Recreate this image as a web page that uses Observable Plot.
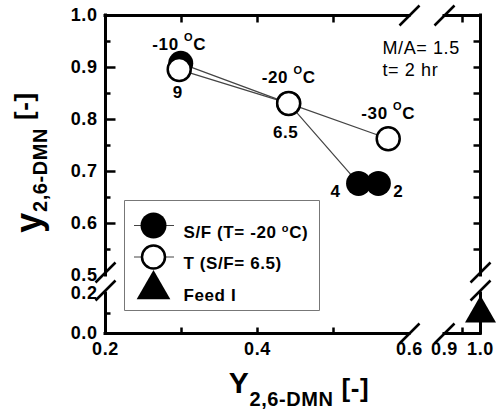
<!DOCTYPE html>
<html><head><meta charset="utf-8">
<script src="https://cdn.jsdelivr.net/npm/d3@7"></script>
<script src="https://cdn.jsdelivr.net/npm/@observablehq/plot@0.6"></script>
<style>
body{margin:0;background:#fff}
svg{display:block}
svg text{letter-spacing:0.6px}
</style>
</head><body><div id="chart"></div>
<script>
// ---- data ----
const sfRatio = ["9", "6.5", "4", "2"];
const sfX = [0.299, 0.441, 0.533, 0.559];
const sfY = [0.908, 0.831, 0.677, 0.677];
const tempC = ["-10", "-20", "-30"];
const tempX = [0.297, 0.441, 0.572];
const tempY = [0.896, 0.831, 0.763];
const feedX = [1.0];
const feedY = [0.10];
const xTickLabels = [0.2, 0.4, 0.6, 0.9, 1.0];
const xMinorTicks = [0.3, 0.4, 0.5, 0.95];
const yTickLabels = [0.0, 0.2, 0.5, 0.6, 0.7, 0.8, 0.9, 1.0];
const yMajorTicks = [0.6, 0.7, 0.8, 0.9];
const yMinorTicks = [0.1, 0.55, 0.65, 0.75, 0.85, 0.95];
const xSegments = [[0.2, 0.6], [0.9, 1.0]];
const ySegments = [[0.0, 0.2], [0.5, 1.0]];
const xBreaks = [0.6, 0.9];
const yBreaks = [0.2, 0.5];
const legendLabels = ["S/F (T= -20 {11|-6|o}C)", "T (S/F= 6.5)", "Feed I"];
const conditionNote = "M/A= 1.5\nt= 2 hr";
const xTitle = "Y{20|13|2,6-DMN}{26|4| [-]}";
const yTitle = "y{20|6|2,6-DMN}{26|-8| [-]}";

const sf = sfRatio.map((r, i) => ({r, x: sfX[i], y: sfY[i]}));
const tp = tempC.map((t, i) => ({t, x: tempX[i], y: tempY[i]}));
const feed = feedX.map((x, i) => ({x, y: feedY[i]}));

// custom symbols
const seg = (x1, y1, x2, y2) => ({draw(ctx) { ctx.moveTo(x1, y1); ctx.lineTo(x2, y2); }});
const boxSym = {draw(ctx) { ctx.rect(-97.5, -55, 195, 110); }};
const slash = seg(-10, 10, 10, -10);

const font = "Liberation Sans, Arial, Helvetica, sans-serif";
const B = {fontFamily: font, fontWeight: "bold", fill: "black"};

const legendRows = legendLabels.map((_, i) => 210 + i * 31.5);

const marks = [];
// axis frame lines
for (const [a, b] of xSegments) {
  marks.push(Plot.ruleY([1.0, 0.0], {x1: a, x2: b, stroke: "black", strokeWidth: 3, strokeLinecap: "square"}));
}
for (const [a, b] of ySegments) {
  marks.push(Plot.ruleX([0.2, 1.0], {y1: a, y2: b, stroke: "black", strokeWidth: 3, strokeLinecap: "square"}));
}
// break slashes
marks.push(Plot.dot(xBreaks, {x: d => d, frameAnchor: "top", symbol: slash, stroke: "black", strokeWidth: 2.5, fill: "none"}));
marks.push(Plot.dot(xBreaks, {x: d => d, frameAnchor: "bottom", symbol: slash, stroke: "black", strokeWidth: 2.5, fill: "none"}));
marks.push(Plot.dot(yBreaks, {y: d => d, frameAnchor: "left", dy: -3, symbol: slash, stroke: "black", strokeWidth: 2.5, fill: "none"}));
marks.push(Plot.dot(yBreaks, {y: d => d, frameAnchor: "right", dy: -3, symbol: slash, stroke: "black", strokeWidth: 2.5, fill: "none"}));
// ticks (inward)
marks.push(Plot.dot(xMinorTicks, {x: d => d, frameAnchor: "bottom", symbol: seg(0, 0, 0, -6), stroke: "black", strokeWidth: 2.5, fill: "none"}));
marks.push(Plot.dot(xMinorTicks, {x: d => d, frameAnchor: "top", symbol: seg(0, 0, 0, 7), stroke: "black", strokeWidth: 2.5, fill: "none"}));
marks.push(Plot.dot(yMajorTicks, {y: d => d, frameAnchor: "left", symbol: seg(0, 0, 10, 0), stroke: "black", strokeWidth: 2.5, fill: "none"}));
marks.push(Plot.dot(yMinorTicks, {y: d => d, frameAnchor: "left", symbol: seg(0, 0, 5, 0), stroke: "black", strokeWidth: 2.5, fill: "none"}));
marks.push(Plot.dot(yMajorTicks.concat(yMinorTicks.filter(v => v > 0.5)), {y: d => d, frameAnchor: "right", symbol: seg(0, 0, -7, 0), stroke: "black", strokeWidth: 2.5, fill: "none"}));
// tick labels
marks.push(Plot.text(xTickLabels, {x: d => d, frameAnchor: "bottom", dy: 21, text: d => d.toFixed(1), fontSize: 18, ...B}));
marks.push(Plot.text(yTickLabels, {y: d => d, frameAnchor: "left", dx: -8, textAnchor: "end", text: d => d.toFixed(1), fontSize: 18, ...B}));
// axis titles
marks.push(Plot.text([xTitle], {frameAnchor: "bottom", dx: 6, dy: 59, textAnchor: "middle", lineAnchor: "bottom", text: d => d, fontSize: 30, ...B}));
marks.push(Plot.text([yTitle], {frameAnchor: "left", dx: -65, dy: -12, rotate: -90, textAnchor: "middle", lineAnchor: "bottom", text: d => d, fontSize: 36, ...B}));
// series lines
marks.push(Plot.line(sf, {x: "x", y: "y", stroke: "#444", strokeWidth: 1.2}));
marks.push(Plot.line(tp, {x: "x", y: "y", stroke: "#444", strokeWidth: 1.2}));
// markers
marks.push(Plot.dot(sf, {x: "x", y: "y", r: 12.5, fill: "black", stroke: "none"}));
marks.push(Plot.dot(tp, {x: "x", y: "y", r: 11.5, fill: "white", stroke: "black", strokeWidth: 2.5}));
marks.push(Plot.dot(feed, {x: "x", y: "y", symbol: "triangle", r: 11.5, fill: "black", stroke: "none"}));
// point labels
marks.push(Plot.text(tp, {x: "x", y: "y", text: d => d.t + " {11|-9|O}C", dx: 0, dy: -20, lineAnchor: "bottom", fontSize: 17, ...B}));
marks.push(Plot.text(sf.slice(0, 2), {x: "x", y: "y", text: "r", dx: -3, dy: 35, lineAnchor: "bottom", fontSize: 17, ...B}));
marks.push(Plot.text(sf.slice(2, 3), {x: "x", y: "y", text: "r", dx: -18, dy: 14, textAnchor: "end", lineAnchor: "bottom", fontSize: 17, ...B}));
marks.push(Plot.text(sf.slice(3), {x: "x", y: "y", text: "r", dx: 15, dy: 14, textAnchor: "start", lineAnchor: "bottom", fontSize: 17, ...B}));
// condition note
marks.push(Plot.text([conditionNote], {frameAnchor: "top-left", dx: 277, dy: 60, text: d => d, textAnchor: "start", lineAnchor: "bottom", lineHeight: 1.22, fontSize: 18, fontFamily: font, fill: "black"}));
// legend
marks.push(Plot.dot([0], {frameAnchor: "top-left", dx: 116.5, dy: 240, symbol: boxSym, stroke: "#777", strokeWidth: 1, fill: "white"}));
marks.push(Plot.dot([0], {frameAnchor: "top-left", dx: 48.5, dy: legendRows[0], symbol: seg(-20, 0, 20, 0), stroke: "#444", strokeWidth: 1}));
marks.push(Plot.dot([0], {frameAnchor: "top-left", dx: 48.5, dy: legendRows[1], symbol: seg(-20, 0, 20, 0), stroke: "#444", strokeWidth: 1}));
marks.push(Plot.dot([0], {frameAnchor: "top-left", dx: 48, dy: legendRows[0], r: 13, fill: "black", stroke: "none"}));
marks.push(Plot.dot([0], {frameAnchor: "top-left", dx: 48, dy: legendRows[1], r: 11.5, fill: "white", stroke: "black", strokeWidth: 2.5}));
marks.push(Plot.dot([0], {frameAnchor: "top-left", dx: 48, dy: legendRows[2] + 1, symbol: "triangle", r: 12.5, fill: "black", stroke: "none"}));
legendLabels.forEach((lab, i) => {
  marks.push(Plot.text([lab], {frameAnchor: "top-left", dx: 78, dy: legendRows[i], text: d => d, textAnchor: "start", fontSize: 17, ...B}));
});

const chart = Plot.plot({
  width: 501,
  height: 412,
  marginLeft: 105,
  marginRight: 21,
  marginTop: 15,
  marginBottom: 79,
  style: {fontFamily: font, background: "white", overflow: "visible"},
  x: {type: "linear", domain: [0.2, 0.6, 0.9, 1.0], range: [105, 409, 444, 480], axis: null},
  y: {type: "linear", domain: [0.0, 0.2, 0.5, 1.0], range: [333, 293, 275, 15], axis: null},
  marks
});

// rich text: {size|shift|text} segments -> tspans
d3.select(chart).selectAll("text").each(function() {
  const t = this.textContent;
  if (!t.includes("{")) return;
  const el = d3.select(this);
  el.text(null);
  const re = /\{(\d+)\|(-?\d+)\|([^}]*)\}/g;
  let last = 0, m, shift = 0;
  const parts = [];
  while ((m = re.exec(t))) {
    if (m.index > last) parts.push({s: t.slice(last, m.index), size: null, off: 0});
    parts.push({s: m[3], size: +m[1], off: +m[2]});
    last = re.lastIndex;
  }
  if (last < t.length) parts.push({s: t.slice(last), size: null, off: 0});
  for (const p of parts) {
    const ts = el.append("tspan").text(p.s);
    if (p.size) ts.attr("font-size", p.size);
    const d = p.off - shift;
    if (d) ts.attr("dy", d);
    shift = p.off;
  }
});

document.getElementById("chart").appendChild(chart);
</script>
</body></html>
